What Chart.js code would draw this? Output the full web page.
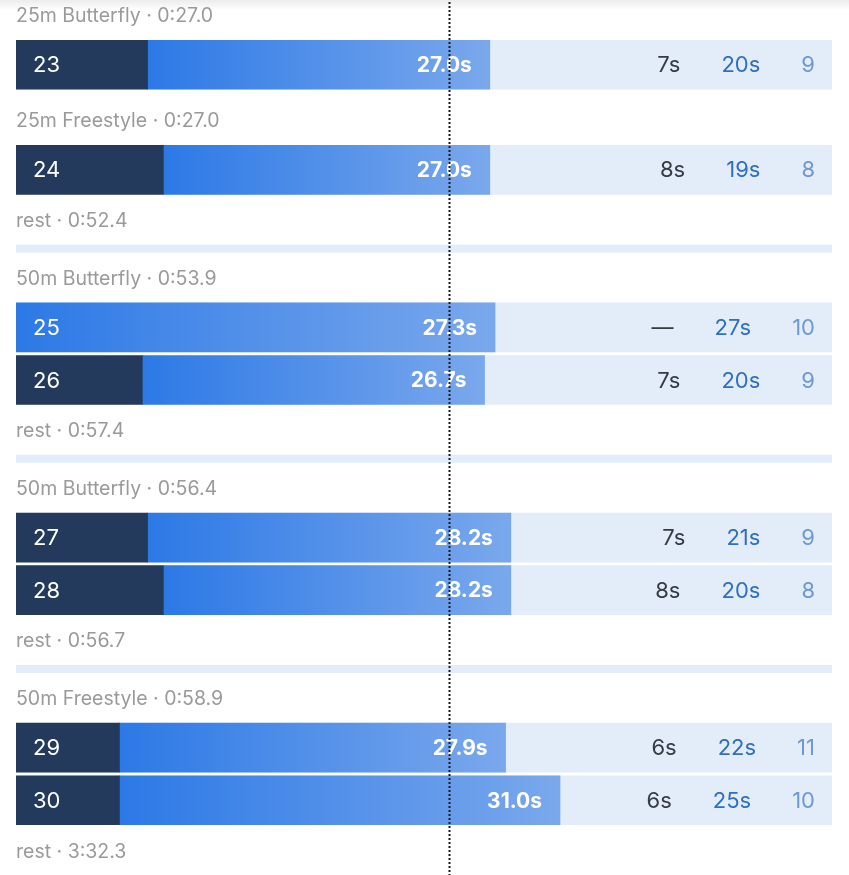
<!DOCTYPE html>
<html>
<head>
<meta charset="utf-8">
<script src="https://cdn.jsdelivr.net/npm/chart.js@4.4.0/dist/chart.umd.min.js"></script>
<style>
  html, body { margin: 0; padding: 0; }
  body {
    width: 849px; height: 875px; overflow: hidden; position: relative;
    background: linear-gradient(to bottom, #ececec 0px, #ffffff 10px);
  }
  #wrap { position: absolute; left: 0; top: -14px; width: 849px; height: 893px; }
</style>
</head>
<body>
<div id="wrap"><canvas id="laps"></canvas></div>
<script>
// one entry per row, top to bottom
const rowLabels = [
  "25m Butterfly · 0:27.0", "23",
  "25m Freestyle · 0:27.0", "24",
  "rest · 0:52.4",
  "50m Butterfly · 0:53.9", "25", "26",
  "rest · 0:57.4",
  "50m Butterfly · 0:56.4", "27", "28",
  "rest · 0:56.7",
  "50m Freestyle · 0:58.9", "29", "30",
  "rest · 3:32.3"
];

const laps      = [23, 24, 25, 26, 27, 28, 29, 30];
const lapTotal  = [27.0, 27.0, 27.3, 26.7, 28.2, 28.2, 27.9, 31.0];
const lapDark   = [7.5, 8.4, null, 7.2, 7.5, 8.4, 5.9, 5.9];
const col1      = ["7s", "8s", "—", "7s", "7s", "8s", "6s", "6s"];
const col2      = ["20s", "19s", "27s", "20s", "21s", "20s", "22s", "25s"];
const col3      = ["9", "8", "10", "9", "9", "8", "11", "10"];
const trackMax  = 46.5;
const refTime   = 24.7;

const FONT = "Inter, 'Open Sans', sans-serif";

function lapOf(label) {
    return laps.indexOf(Number(label));
}

const trackData = rowLabels.map(l => lapOf(l) >= 0 ? trackMax : null);
const blueData = rowLabels.map(l => {
    const i = lapOf(l);
    return i >= 0 ? [lapDark[i] || 0, lapTotal[i]] : null;
});
const darkData = rowLabels.map(l => {
    const i = lapOf(l);
    return i >= 0 && lapDark[i] ? [0, lapDark[i]] : null;
});

function blueGradient(c) {
    const chart = c.chart;
    if (!chart.chartArea || !c.raw) return "#3b82e6";
    const xs = chart.scales.x;
    const x0 = xs.getPixelForValue(c.raw[0]);
    const x1 = xs.getPixelForValue(c.raw[1]);
    const g = chart.ctx.createLinearGradient(x0, 0, x1, 0);
    g.addColorStop(0, "#2c79e6");
    g.addColorStop(1, "#7aa8ec");
    return g;
}

const lapText = {
    id: "lapText",
    beforeDatasetsDraw(chart) {
        const ctx = chart.ctx, xs = chart.scales.x, ys = chart.scales.y;
        const slot = ys.getPixelForValue(1) - ys.getPixelForValue(0);
        ctx.save();
        ctx.fillStyle = "#e3edf9";
        rowLabels.forEach((l, r) => {
            if (l.startsWith("rest")) {
                const yb = ys.getPixelForValue(r) + slot / 2;
                ctx.fillRect(xs.getPixelForValue(0), yb - 4, xs.getPixelForValue(trackMax) - xs.getPixelForValue(0), 8);
            }
        });
        ctx.restore();
    },
    afterDatasetsDraw(chart) {
        const ctx = chart.ctx, xs = chart.scales.x, ys = chart.scales.y;
        const left = xs.getPixelForValue(0);
        const right = xs.getPixelForValue(trackMax);
        ctx.save();
        ctx.textBaseline = "middle";
        rowLabels.forEach((l, r) => {
            const y = ys.getPixelForValue(r);
            const i = lapOf(l);
            if (i < 0) {
                ctx.font = "19.5px " + FONT;
                ctx.fillStyle = "#9a9a9a";
                ctx.textAlign = "left";
                ctx.fillText(l, left, y + (l.startsWith("rest") ? -1 : 4));
                return;
            }
            ctx.font = "22px " + FONT;
            ctx.fillStyle = "#ffffff";
            ctx.textAlign = "left";
            ctx.fillText(l, left + 17, y + 1);

            ctx.font = "bold 21px " + FONT;
            ctx.textAlign = "right";
            ctx.fillText(lapTotal[i].toFixed(1) + "s", xs.getPixelForValue(lapTotal[i]) - 18, y + 1);

            // right hand columns, laid out right to left
            ctx.font = "22px " + FONT;
            let xr = right - 17;
            [[col3[i], "#6e99d0"], [col2[i], "#2f6fbf"], [col1[i], "#363b42"]].forEach(([t, c]) => {
                ctx.fillStyle = c;
                ctx.fillText(t, xr, y + 1);
                xr -= ctx.measureText(t).width + 41;
            });
        });
        ctx.restore();
    },
    afterDraw(chart) {
        const ctx = chart.ctx, xs = chart.scales.x;
        const x = Math.round(xs.getPixelForValue(refTime)) + 0.5;
        ctx.save();
        ctx.strokeStyle = "#1a1a1a";
        ctx.lineWidth = 2;
        ctx.setLineDash([2, 2]);
        ctx.beginPath();
        ctx.moveTo(x, 0);
        ctx.lineTo(x, chart.height);
        ctx.stroke();
        ctx.restore();
    }
};

new Chart(document.getElementById("laps"), {
    type: "bar",
    data: {
        labels: rowLabels,
        datasets: [
            { label: "track", data: trackData, backgroundColor: "#e3edfa", order: 3 },
            { label: "lap", data: blueData, backgroundColor: blueGradient, order: 2 },
            { label: "dark", data: darkData, backgroundColor: "#233a5d", order: 1 }
        ]
    },
    options: {
        indexAxis: "y",
        responsive: true,
        maintainAspectRatio: false,
        animation: false,
        layout: { padding: { left: 16, right: 17, top: 0, bottom: 0 } },
        datasets: {
            bar: { barThickness: 49, grouped: false, borderWidth: 0, borderSkipped: false }
        },
        plugins: { legend: { display: false }, tooltip: { enabled: false } },
        scales: {
            x: { type: "linear", min: 0, max: trackMax, display: false },
            y: { display: false }
        }
    },
    plugins: [lapText]
});
</script>
</body>
</html>
